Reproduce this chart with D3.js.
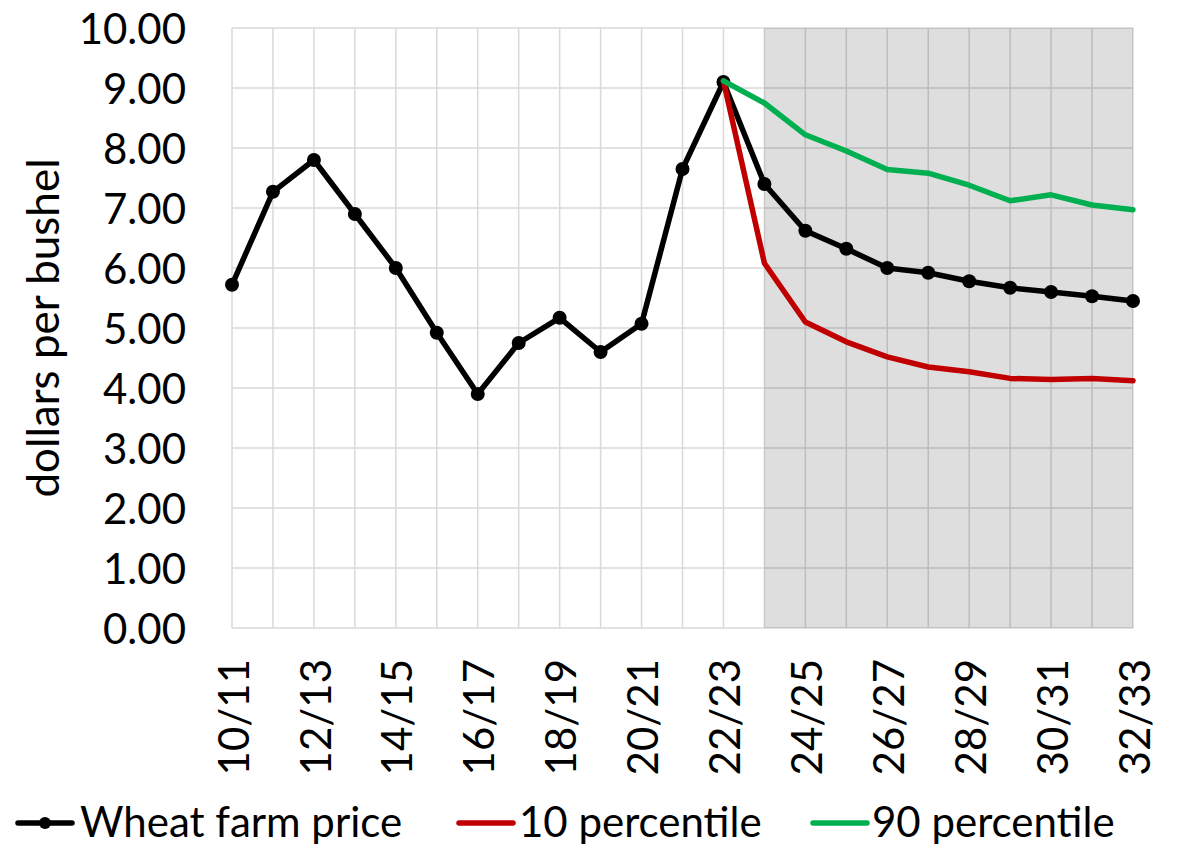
<!DOCTYPE html>
<html>
<head>
<meta charset="utf-8">
<script src="https://cdn.jsdelivr.net/npm/d3@7/dist/d3.min.js"></script>
<style>
  html, body { margin: 0; padding: 0; background: #fff; }
  svg { display: block; font-family: Lato, "Open Sans", sans-serif; }
</style>
</head>
<body>
<svg id="chart" width="1183" height="849"></svg>
<script>
const categories = ["10/11","11/12","12/13","13/14","14/15","15/16","16/17","17/18","18/19","19/20","20/21","21/22","22/23","23/24","24/25","25/26","26/27","27/28","28/29","29/30","30/31","31/32","32/33"];
const wheatPrice = [5.72,7.27,7.80,6.90,6.00,4.92,3.90,4.75,5.17,4.60,5.07,7.65,9.10,7.40,6.62,6.32,6.00,5.92,5.78,5.67,5.60,5.53,5.45];
const pct10 = [null,null,null,null,null,null,null,null,null,null,null,null,9.12,6.08,5.10,4.77,4.52,4.35,4.27,4.16,4.14,4.16,4.12];
const pct90 = [null,null,null,null,null,null,null,null,null,null,null,null,9.12,8.75,8.22,7.95,7.64,7.58,7.38,7.12,7.22,7.05,6.97];
const yTicks = [0,1,2,3,4,5,6,7,8,9,10];
const xTickLabels = ["10/11","12/13","14/15","16/17","18/19","20/21","22/23","24/25","26/27","28/29","30/31","32/33"];
const shadeFrom = "23/24", shadeTo = "32/33";
const seriesNames = ["Wheat farm price","10 percentile","90 percentile"];
const seriesColors = ["#000000","#c00000","#00b050"];

const svg = d3.select("#chart");
const plotLeft = 232, plotRight = 1133, plotTop = 28, plotBottom = 628;

const x = d3.scalePoint().domain(categories).range([plotLeft, plotRight]);
const y = d3.scaleLinear().domain([0, 10]).range([plotBottom, plotTop]);

// gridlines
const grid = svg.append("g");
grid.selectAll("line.h").data(yTicks).join("line")
  .attr("x1", plotLeft).attr("x2", plotRight)
  .attr("y1", d => y(d)).attr("y2", d => y(d))
  .attr("stroke", "#d9d9d9").attr("stroke-width", 1.5);
grid.selectAll("line.v").data(categories).join("line")
  .attr("x1", d => x(d)).attr("x2", d => x(d))
  .attr("y1", plotTop).attr("y2", plotBottom)
  .attr("stroke", "#d9d9d9").attr("stroke-width", 1.5);

// shaded forecast region
svg.append("rect")
  .attr("x", x(shadeFrom)).attr("y", y(10))
  .attr("width", x(shadeTo) - x(shadeFrom)).attr("height", y(0) - y(10))
  .attr("fill", "rgba(0,0,0,0.13)");

// y axis
const yAxis = d3.axisLeft(y).tickValues(yTicks).tickFormat(d3.format(".2f")).tickSize(0).tickPadding(46);
const gy = svg.append("g").attr("transform", `translate(${plotLeft},0)`).call(yAxis);
gy.select(".domain").remove();
gy.selectAll("text").attr("font-size", 42).attr("fill", "#000").attr("font-family", "Lato, sans-serif").attr("dy", "0.36em");

// x axis
const xAxis = d3.axisBottom(x).tickValues(xTickLabels).tickSize(0).tickPadding(0);
const gx = svg.append("g").attr("transform", `translate(0,${plotBottom})`).call(xAxis);
gx.select(".domain").remove();
gx.selectAll("text")
  .attr("font-size", 42).attr("fill", "#000").attr("font-family", "Lato, sans-serif")
  .attr("text-anchor", "end")
  .attr("transform", "translate(1,31) rotate(-90)")
  .attr("x", 0).attr("y", 0).attr("dy", "0.36em");

// axis title
svg.append("text")
  .attr("transform", `translate(44,${(plotTop+plotBottom)/2}) rotate(-90)`)
  .attr("text-anchor", "middle").attr("dy", "0.35em")
  .attr("font-size", 44).attr("fill", "#000")
  .text("dollars per bushel");

// lines
const line = d3.line().defined(d => d.v != null).x(d => x(d.c)).y(d => y(d.v));
const allSeries = [wheatPrice, pct10, pct90].map(arr => categories.map((c, i) => ({c, v: arr[i]})));
allSeries.forEach((data, i) => {
  svg.append("path").datum(data)
    .attr("d", line).attr("fill", "none")
    .attr("stroke", seriesColors[i]).attr("stroke-width", 5.5)
    .attr("stroke-linejoin", "round").attr("stroke-linecap", "round");
  if (i === 0) {
    svg.append("g").selectAll("circle").data(data.filter(d => d.v != null)).join("circle")
      .attr("cx", d => x(d.c)).attr("cy", d => y(d.v)).attr("r", 7)
      .attr("fill", seriesColors[i]);
  }
});

// legend
const legendItems = [
  {lx: 18, tx: 80},
  {lx: 459, tx: 519},
  {lx: 813, tx: 872}
];
const ly = 823;
legendItems.forEach((it, i) => {
  const g = svg.append("g");
  g.append("line").attr("x1", it.lx).attr("x2", it.lx + 54).attr("y1", ly).attr("y2", ly)
    .attr("stroke", seriesColors[i]).attr("stroke-width", 5.5).attr("stroke-linecap", "round");
  if (i === 0) g.append("circle").attr("cx", it.lx + 27).attr("cy", ly).attr("r", 6).attr("fill", seriesColors[i]);
  g.append("text").attr("x", it.tx).attr("y", 837).attr("font-size", 42).attr("fill", "#000").text(seriesNames[i]);
});
</script>
</body>
</html>
